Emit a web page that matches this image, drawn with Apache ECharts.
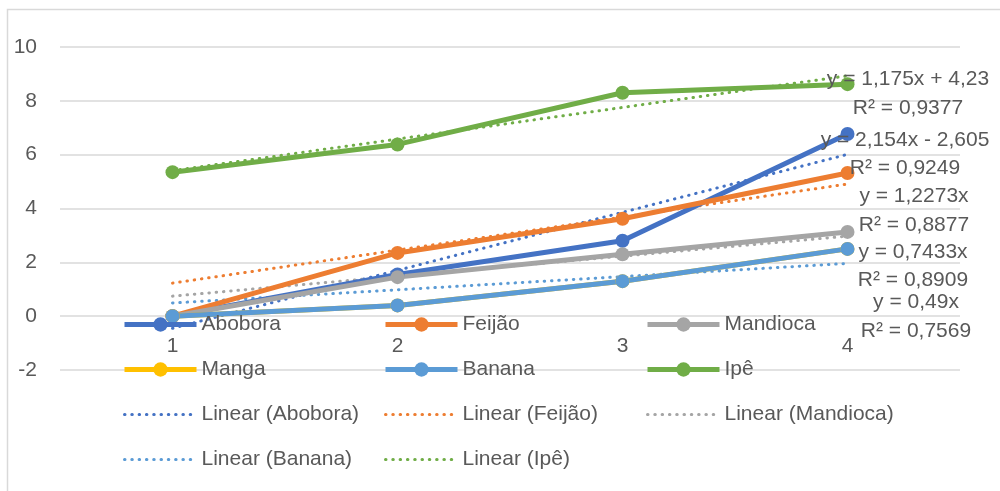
<!DOCTYPE html>
<html>
<head>
<meta charset="utf-8">
<script src="https://cdn.jsdelivr.net/npm/echarts@6/dist/echarts.min.js"></script>
<style>
  html, body { margin: 0; background: #fff; }
  #chart { width: 1000px; height: 491px; }
</style>
</head>
<body>
<div id="chart"></div>
<script>
  // data
  const categories = ['1', '2', '3', '4']
  const abobora = [0, 1.55, 2.8, 6.77]
  const feijao = [0, 2.35, 3.62, 5.32]
  const mandioca = [0, 1.45, 2.3, 3.13]
  const manga = [0, 0.4, 1.3, 2.5]
  const banana = [0, 0.4, 1.3, 2.5]
  const ipe = [5.35, 6.38, 8.3, 8.62]

  // trendlines, from the equations shown on the chart
  const trendNames = ['Abobora', 'Feijão', 'Mandioca', 'Banana', 'Ipê']
  const trendSlopes = [2.154, 1.2273, 0.7433, 0.49, 1.175]
  const trendIntercepts = [-2.605, 0, 0, 0, 4.23]
  const trendEquations = ['y = 2,154x - 2,605', 'y = 1,2273x', 'y = 0,7433x', 'y = 0,49x', 'y = 1,175x + 4,23']
  const trendR2 = ['R² = 0,9249', 'R² = 0,8877', 'R² = 0,8909', 'R² = 0,7569', 'R² = 0,9377']

  const yMin = -2
  const yMax = 10
  const yStep = 2

  const colors = {
    'Abobora': '#4472C4',
    'Feijão': '#ED7D31',
    'Mandioca': '#A5A5A5',
    'Manga': '#FFC000',
    'Banana': '#5B9BD5',
    'Ipê': '#70AD47'
  }
  const textColor = '#595959'
  const font = 'Liberation Sans'
  const fontSize = 21

  const chart = echarts.init(document.getElementById('chart'))

  function lineSeries(name, data) {
    return {
      name: name,
      type: 'line',
      data: data,
      symbol: 'circle',
      symbolSize: 14,
      color: colors[name],
      lineStyle: { width: 5, color: colors[name] },
      itemStyle: { color: colors[name] },
      z: 3
    }
  }

  function trendSeries(i) {
    const name = trendNames[i]
    const vals = categories.map(c => +(trendSlopes[i] * Number(c) + trendIntercepts[i]).toFixed(4))
    return {
      name: 'Linear (' + name + ')',
      type: 'line',
      data: vals,
      symbol: 'none',
      color: colors[name],
      lineStyle: { width: 3, type: [0.5, 6.8], cap: 'round', color: colors[name] },
      z: 2
    }
  }

  // equation labels sit to the right of the last category (pixel spots as in the picture)
  const labelSpots = [[905, 140, 168], [914, 196, 225], [913, 252, 280], [916, 302, 331], [908, 79, 108]]
  const graphics = [{
    type: 'rect',
    shape: { x: 7.5, y: 9.5, width: 1000, height: 500 },
    style: { fill: null, stroke: '#D9D9D9', lineWidth: 1.5 },
    silent: true
  }]
  labelSpots.forEach((s, i) => {
    graphics.push({
      type: 'text', x: s[0], y: s[1], z: 10,
      style: { text: trendEquations[i], fill: textColor, font: fontSize + 'px ' + font, textAlign: 'center', textVerticalAlign: 'middle' }
    })
    graphics.push({
      type: 'text', x: s[0], y: s[2], z: 10,
      style: { text: trendR2[i], fill: textColor, font: fontSize + 'px ' + font, textAlign: 'center', textVerticalAlign: 'middle' }
    })
  })

  function legendItem(name) {
    if (name.indexOf('Linear') === 0) {
      return { name: name, itemStyle: { opacity: 0 }, lineStyle: { width: 3 } }
    }
    return { name: name, lineStyle: { width: 5 } }
  }

  function legendCol(left, names) {
    return {
      orient: 'vertical',
      left: left,
      top: 314,
      padding: 0,
      itemWidth: 72,
      itemHeight: 18,
      itemGap: 24,
      selectedMode: false,
      textStyle: { color: textColor, fontSize: fontSize, fontFamily: font },
      data: names.map(legendItem)
    }
  }

  chart.setOption({
    animation: false,
    textStyle: { fontFamily: font },
    graphic: graphics,
    legend: [
      legendCol(122, ['Abobora', 'Manga', 'Linear (Abobora)', 'Linear (Banana)']),
      legendCol(383, ['Feijão', 'Banana', 'Linear (Feijão)', 'Linear (Ipê)']),
      legendCol(645, ['Mandioca', 'Ipê', 'Linear (Mandioca)'])
    ],
    grid: { left: 60, right: 40, top: 47, bottom: 121 },
    xAxis: {
      type: 'category',
      data: categories,
      boundaryGap: true,
      offset: -54,
      axisLine: { show: false, onZero: false },
      axisTick: { show: false },
      axisLabel: { color: textColor, fontSize: fontSize, margin: 20 }
    },
    yAxis: {
      type: 'value',
      min: yMin,
      max: yMax,
      interval: yStep,
      axisLine: { show: false },
      axisTick: { show: false },
      axisLabel: { color: textColor, fontSize: fontSize, margin: 23 },
      splitLine: { lineStyle: { color: '#D9D9D9', width: 1.5 } }
    },
    series: [
      lineSeries('Abobora', abobora),
      lineSeries('Feijão', feijao),
      lineSeries('Mandioca', mandioca),
      lineSeries('Manga', manga),
      lineSeries('Banana', banana),
      lineSeries('Ipê', ipe),
      trendSeries(0),
      trendSeries(1),
      trendSeries(2),
      trendSeries(3),
      trendSeries(4)
    ]
  })
</script>
</body>
</html>
